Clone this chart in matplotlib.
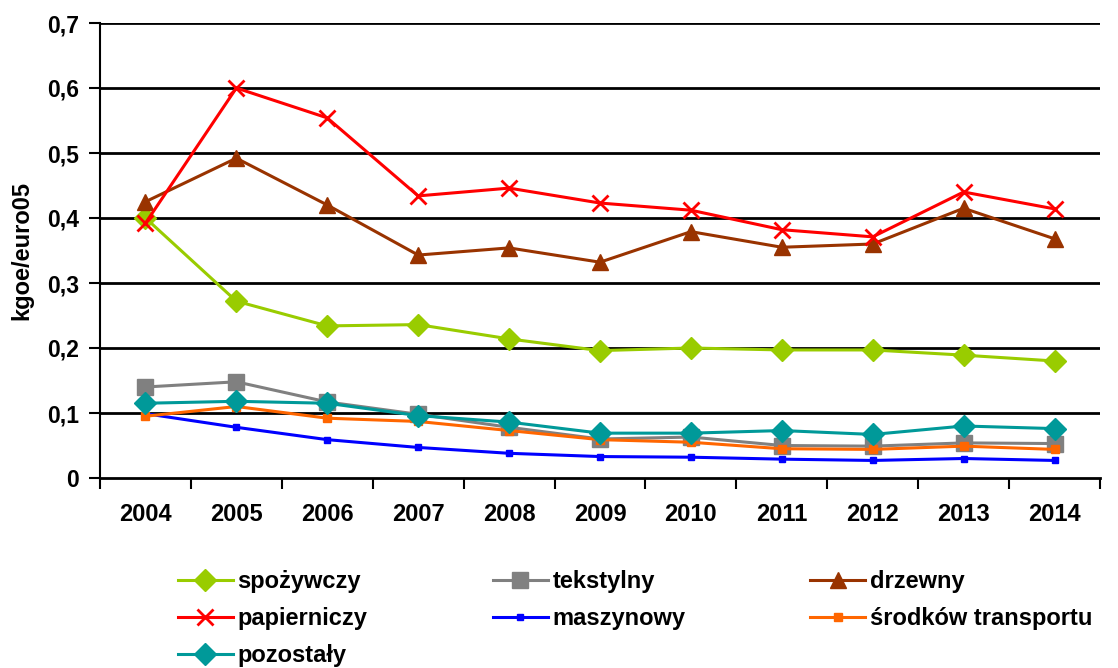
import matplotlib
matplotlib.use("Agg")
import matplotlib.pyplot as plt
from matplotlib.ticker import FixedLocator, NullFormatter

plt.rcParams['font.family'] = ['Liberation Sans', 'DejaVu Sans']
plt.rcParams['font.weight'] = 'bold'

years = ['2004', '2005', '2006', '2007', '2008', '2009', '2010', '2011', '2012', '2013', '2014']

spozywczy = [0.400, 0.272, 0.234, 0.236, 0.214, 0.196, 0.200, 0.197, 0.197, 0.189, 0.180]
tekstylny = [0.140, 0.148, 0.117, 0.098, 0.078, 0.060, 0.063, 0.050, 0.049, 0.054, 0.053]
drzewny = [0.425, 0.492, 0.420, 0.343, 0.354, 0.332, 0.379, 0.355, 0.360, 0.415, 0.368]
papierniczy = [0.392, 0.600, 0.554, 0.434, 0.446, 0.423, 0.412, 0.382, 0.371, 0.440, 0.414]
maszynowy = [0.099, 0.078, 0.059, 0.047, 0.038, 0.033, 0.032, 0.029, 0.027, 0.030, 0.027]
srodkow_transportu = [0.095, 0.110, 0.092, 0.087, 0.073, 0.059, 0.055, 0.045, 0.044, 0.049, 0.044]
pozostaly = [0.115, 0.118, 0.115, 0.096, 0.086, 0.069, 0.069, 0.073, 0.067, 0.080, 0.076]

yticks = [0, 0.1, 0.2, 0.3, 0.4, 0.5, 0.6, 0.7]
ytick_labels = ['0', '0,1', '0,2', '0,3', '0,4', '0,5', '0,6', '0,7']

FS = 17

fig = plt.figure(figsize=(11.18, 6.68), dpi=100)
ax = fig.add_axes([100/1118, (668-478)/668, 1000/1118, 455/668])

x = list(range(len(years)))
series = [
    ('spożywczy', spozywczy, '#99CC00', 'D', 11, None),
    ('tekstylny', tekstylny, '#808080', 's', 11, None),
    ('drzewny', drzewny, '#993300', '^', 12, None),
    ('papierniczy', papierniczy, '#FF0000', 'x', 12, 2.0),
    ('maszynowy', maszynowy, '#0000FF', 's', 4, None),
    ('środków transportu', srodkow_transportu, '#FF6600', 's', 5.5, None),
    ('pozostały', pozostaly, '#009999', 'D', 11, None),
]
handles = {}
for name, vals, col, mk, ms, mew in series:
    kw = dict(color=col, marker=mk, markersize=ms, linewidth=2.2,
              markerfacecolor=col, markeredgecolor=col, label=name, clip_on=False)
    if mew:
        kw['markeredgewidth'] = mew
    h, = ax.plot(x, vals, **kw)
    handles[name] = h

ax.set_xlim(-0.5, len(years) - 0.5)
ax.set_ylim(0, 0.7)
ax.set_yticks(yticks)
ax.set_yticklabels(ytick_labels)
for yv in yticks[1:]:
    ax.axhline(yv, color='black', linewidth=2.0, zorder=0.5)

ax.xaxis.set_major_locator(FixedLocator([i - 0.5 for i in range(len(years) + 1)]))
ax.xaxis.set_major_formatter(NullFormatter())
ax.xaxis.set_minor_locator(FixedLocator(x))
ax.set_xticklabels(years, minor=True)
ax.tick_params(axis='x', which='major', direction='out', length=8, width=1.5, color='black')
ax.tick_params(axis='x', which='minor', length=0, pad=18, labelsize=FS)
ax.tick_params(axis='y', direction='out', length=8, width=1.5, labelsize=16.5, pad=7)

for s in ['top', 'right']:
    ax.spines[s].set_visible(False)
ax.spines['left'].set_linewidth(1.5)
ax.spines['bottom'].set_linewidth(2.0)

ax.set_ylabel('kgoe/euro05', fontsize=FS, fontweight='bold', labelpad=10)

order = ['spożywczy', 'papierniczy', 'pozostały', 'tekstylny', 'maszynowy',
         'drzewny', 'środków transportu']
leg = fig.legend(handles=[handles[n] for n in order], loc='upper left',
                 bbox_to_anchor=(166/1118, 1 - 558/668), borderpad=0,
                 ncol=3, frameon=False, handlelength=2.33,
                 columnspacing=5.3, labelspacing=0.6, handletextpad=0.2,
                 prop={'weight': 'bold', 'size': FS})

fig.savefig('out.png', dpi=100)
